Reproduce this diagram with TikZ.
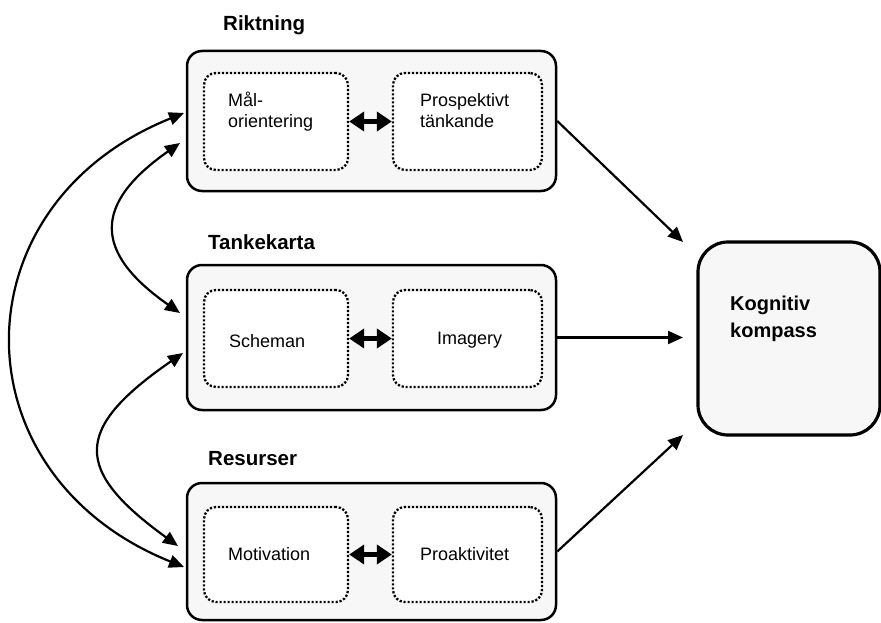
\documentclass[tikz,border=0pt]{standalone}
\usepackage{fontspec}
\setmainfont{Liberation Sans}
\usetikzlibrary{arrows.meta}
\definecolor{boxgray}{HTML}{F7F7F7}
\begin{document}
\begin{tikzpicture}[x=1pt,y=-1pt,
  outerbox/.style={draw, line width=2.5pt, fill=boxgray, rounded corners=15pt, inner sep=0pt, minimum width=369pt},
  innerbox/.style={draw, line width=2.3pt, dash pattern=on 2.2pt off 1.8pt, fill=white, rounded corners=12pt, inner sep=0pt},
  kbox/.style={draw, line width=3.2pt, fill=boxgray, rounded corners=30pt, inner sep=0pt},
  txt/.style={inner sep=0pt, anchor=base west, font=\fontsize{18pt}{21pt}\selectfont},
  ttl/.style={inner sep=0pt, anchor=base west, font=\fontsize{20.5pt}{24pt}\selectfont\bfseries},
  conn/.style={line width=2.2pt, -{Triangle[length=15pt,width=13pt]}},
  bconn/.style={line width=2.2pt, {Triangle[length=15pt,width=13pt]}-{Triangle[length=15pt,width=13pt]}},
  dbl/.style={line width=5pt, {Triangle[length=15pt,width=19pt]}-{Triangle[length=15pt,width=19pt]}}
]
\useasboundingbox (0,0) rectangle (881,623);

% outer boxes
\node[outerbox, minimum height=140pt] (rik) at (371.5,121) {};
\node[outerbox, minimum height=145pt] (tan) at (371.5,337.5) {};
\node[outerbox, minimum height=137pt] (res) at (371.5,551.5) {};

% inner boxes
\node[innerbox, minimum width=144pt, minimum height=97pt] (ri1) at (276,121.5) {};
\node[innerbox, minimum width=149pt, minimum height=97pt] (ri2) at (467.5,121.5) {};
\node[innerbox, minimum width=144pt, minimum height=97pt] (ta1) at (276,338.5) {};
\node[innerbox, minimum width=149pt, minimum height=97pt] (ta2) at (467.5,338.5) {};
\node[innerbox, minimum width=144pt, minimum height=95pt] (re1) at (276,554.5) {};
\node[innerbox, minimum width=149pt, minimum height=95pt] (re2) at (467.5,554.5) {};

% kompass
\node[kbox, minimum width=182pt, minimum height=193pt] (kom) at (789,338.5) {};

% titles
\node[ttl] (trik) at (223,31) {Riktning};
\node[ttl] (ttan) at (208,249) {Tankekarta};
\node[ttl] (tres) at (208,465) {Resurser};

% texts
\node[txt] (m1) at (228,107) {Mål-};
\node[txt] (m2) at (228,128) {orientering};
\node[txt] (p1) at (420,107) {Prospektivt};
\node[txt] (p2) at (420,128) {tänkande};
\node[txt] (sc) at (229,347) {Scheman};
\node[txt] (im) at (437,344) {Imagery};
\node[txt] (mo) at (228,560) {Motivation};
\node[txt] (pr) at (420,560) {Proaktivitet};
\node[ttl, font=\fontsize{20pt}{24pt}\selectfont\bfseries] (k1) at (730,310) {Kognitiv};
\node[ttl, font=\fontsize{20pt}{24pt}\selectfont\bfseries] (k2) at (730,337) {kompass};

% double arrows between inner boxes
\draw[dbl] (ri1.east) -- (ri2.west);
\draw[dbl] (ta1.east) -- (ta2.west);
\draw[dbl] (re1.east) -- (re2.west);

% arrows to kompass
\coordinate (kin1) at (683,242);
\coordinate (kin2) at (683,337.5);
\coordinate (kin3) at (683,435);
\draw[conn] (rik.east) -- (kin1);
\draw[conn] (tan.east) -- (kin2);
\draw[conn] (res.east) -- (kin3);

% left curved arrows
\coordinate (ra) at (184,113);
\coordinate (rb) at (180,143);
\coordinate (ta) at (180,313);
\coordinate (tb) at (183,353);
\coordinate (sa) at (178,546);
\coordinate (sb) at (184,567);
\draw[bconn] (ra) .. controls (-45,205) and (-45,475) .. (sb);
\draw[bconn] (rb) .. controls (93,204) and (93,252) .. (ta);
\draw[bconn] (tb) .. controls (73,429) and (73,470) .. (sa);
\end{tikzpicture}
\end{document}
